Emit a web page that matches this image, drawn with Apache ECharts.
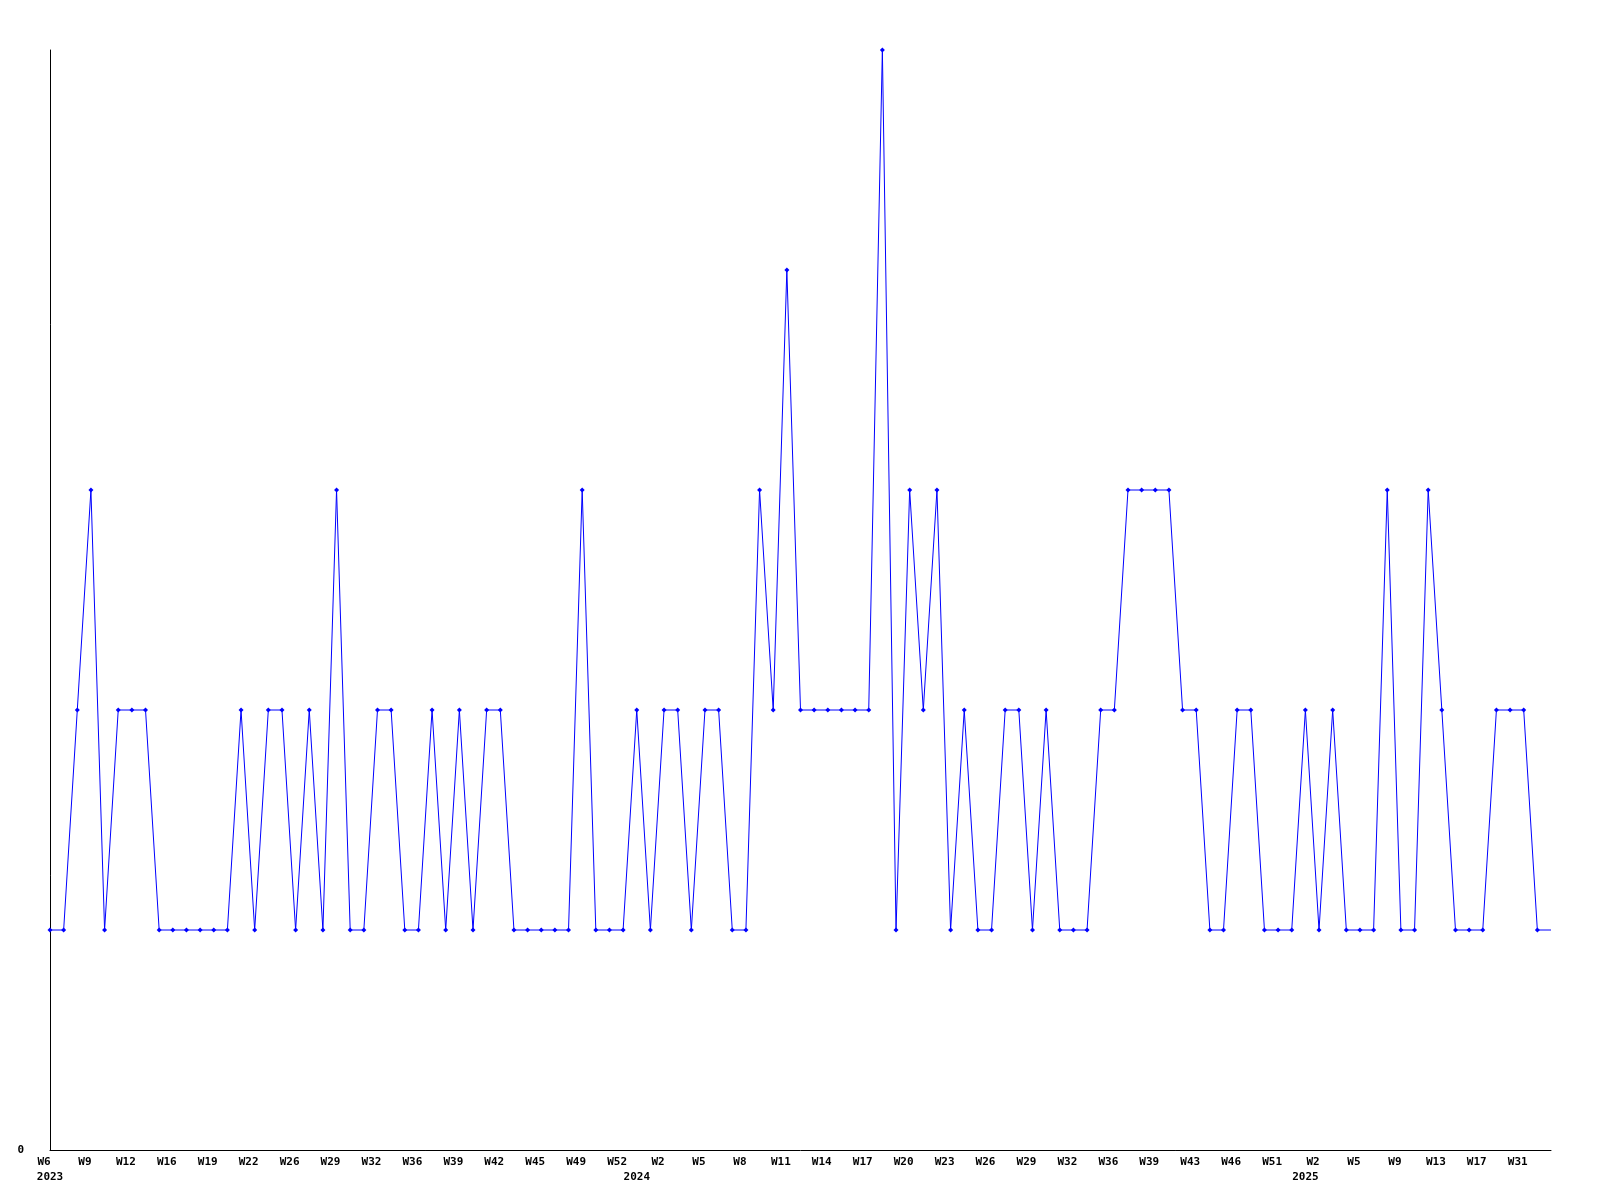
<!DOCTYPE html>
<html>
<head>
<meta charset="utf-8">
<script src="https://cdn.jsdelivr.net/npm/echarts@6/dist/echarts.min.js"></script>
<style>
html,body{margin:0;padding:0;background:#fff;}
#chart{width:1600px;height:1200px;}
</style>
</head>
<body>
<div id="chart"></div>
<script>
// Weekly values (one per category, left to right)
const values = [
  1,1,2,3,1,2,2,2,1,1,
  1,1,1,1,2,1,2,2,1,2,
  1,3,1,1,2,2,1,1,2,1,
  2,1,2,2,1,1,1,1,1,3,
  1,1,1,2,1,2,2,1,2,2,
  1,1,3,2,4,2,2,2,2,2,
  2,5,1,3,2,3,1,2,1,1,
  2,2,1,2,1,1,1,2,2,3,
  3,3,3,2,2,1,1,2,2,1,
  1,1,2,1,2,1,1,1,3,1,
  1,3,2,1,1,1,2,2,2,1,
  1
];
// Tick labels shown on every third category
const weekTicks = [
  'W6','W9','W12','W16','W19','W22','W26','W29','W32','W36','W39','W42','W45','W49','W52',
  'W2','W5','W8','W11','W14','W17','W20','W23','W26','W29','W32','W36','W39','W43','W46','W51',
  'W2','W5','W9','W13','W17','W31'
];
const yearLabels = ['2023','2024','2025'];
const yearAt = [0, 43, 92];

const categories = values.map((v, i) => String(i));
const seriesData = values.map((v, i) => i === values.length - 1 ? {value: v, symbol: 'none'} : v);

const font = '"DejaVu Sans Mono", monospace';
const chart = echarts.init(document.getElementById('chart'), null, {renderer: 'canvas'});
chart.setOption({
  animation: false,
  backgroundColor: '#ffffff',
  grid: {left: 50, right: 49, top: 50, bottom: 50, containLabel: false},
  xAxis: [{
    type: 'category',
    data: categories,
    boundaryGap: false,
    axisLine: {lineStyle: {color: '#000', width: 1}},
    axisTick: {show: false},
    splitLine: {show: false},
    axisLabel: {
      interval: 2,
      margin: 7,
      color: '#000',
      fontFamily: font,
      fontWeight: 'bold',
      fontSize: 11,
      padding: [0, 12, 0, 0],
      formatter: (val, idx) => weekTicks[Math.round(idx / 3)] || ''
    }
  }, {
    type: 'category',
    data: categories,
    boundaryGap: false,
    position: 'bottom',
    offset: 15,
    axisLine: {show: false},
    axisTick: {show: false},
    splitLine: {show: false},
    axisLabel: {
      interval: (idx) => yearAt.indexOf(idx) >= 0,
      margin: 7,
      color: '#000',
      fontFamily: font,
      fontWeight: 'bold',
      fontSize: 11,
      formatter: (val, idx) => {
        const k = yearAt.indexOf(idx);
        return k >= 0 ? yearLabels[k] : '';
      }
    }
  }],
  yAxis: {
    type: 'value',
    min: 0,
    max: 5,
    interval: 5,
    axisLine: {show: true, lineStyle: {color: '#000', width: 1}},
    axisTick: {show: false},
    splitLine: {show: false},
    axisLabel: {
      margin: 26,
      color: '#000',
      fontFamily: font,
      fontWeight: 'bold',
      fontSize: 11,
      formatter: (v) => v === 0 ? '0' : ''
    }
  },
  series: [{
    type: 'line',
    data: seriesData,
    xAxisIndex: 0,
    symbol: 'diamond',
    symbolSize: 5,
    showSymbol: true,
    showAllSymbol: true,
    lineStyle: {color: '#0000ff', width: 1},
    itemStyle: {color: '#0000ff'},
    emphasis: {disabled: true}
  }]
});
</script>
</body>
</html>
